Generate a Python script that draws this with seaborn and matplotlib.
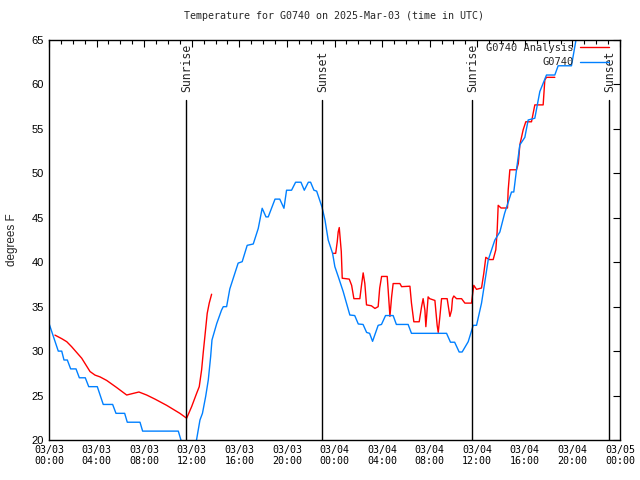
import numpy as np
import pandas as pd
import matplotlib
matplotlib.use('Agg')
import matplotlib.pyplot as plt
from matplotlib.lines import Line2D
import seaborn as sns

# hours since 2025-03-03 00:00 UTC
obs_hours = [0.03, 0.78, 1.07, 1.26, 1.54, 1.82, 2.27, 2.55, 3.05, 3.34, 4.06, 4.56, 5.35, 5.63,
             6.36, 6.58, 7.65, 7.87, 10.87, 11.2, 11.6, 12.1, 12.4, 12.69, 12.9, 13.17, 13.39,
             13.59, 13.7, 14.1, 14.5, 14.65, 14.93, 15.2, 15.9, 16.24, 16.66, 17.17, 17.59,
             17.92, 18.24, 18.43, 19.0, 19.4, 19.75, 19.97, 20.39, 20.73, 21.18, 21.46, 21.8,
             21.99, 22.27, 22.5, 22.95, 23.2, 23.47, 23.84, 24.03, 24.31, 24.73, 25.29, 25.7,
             26.0, 26.4, 26.7, 26.95, 27.2, 27.67, 27.95, 28.29, 28.93, 29.2, 30.19, 30.47,
             33.42, 33.75, 34.1, 34.48, 34.73, 35.24, 35.66, 35.94, 36.36, 36.92, 37.48, 37.9,
             38.3, 38.88, 39.07, 39.3, 39.58, 40.0, 40.28, 40.84, 41.26, 41.82, 42.52, 42.8,
             43.92, 44.3, 44.6]
obs_temps = [33, 30, 30, 29, 29, 28, 28, 27, 27, 26, 26, 24, 24, 23,
             23, 22, 22, 21, 21, 19.5, 18, 18, 20, 22.25, 23, 24.9, 26.75,
             29.4, 31.25, 33.1, 34.6, 35, 35, 37, 39.9, 40.06, 41.9, 42.05, 43.8,
             46.07, 45.1, 45.1, 47.1, 47.1, 46.07, 48.1, 48.1, 49.0, 49, 48.1, 49,
             49, 48.1, 48, 46.2, 44.75, 42.5, 41.0, 39.5, 38.4, 36.7, 34.06, 34,
             33.05, 33, 32.1, 32, 31.1, 32.9, 33, 34, 34, 33, 33, 32,
             32, 31, 31, 29.9, 29.9, 31.06, 32.9, 32.9, 35.4, 40.25, 42.5, 43.4,
             45.5, 47.9, 47.9, 50.4, 53.2, 54.05, 56, 56.2, 59.2, 61.06, 61.06, 62.1,
             62.1, 65, 66.5]

# analysis series, NaN marks the gap in the data
ana_hours = [0.5, 1.07, 1.49, 1.9, 2.75, 3.45, 3.87, 4.29, 4.85, 5.69, 6.53, 6.95, 7.56, 8.21,
             8.91, 9.89, 11.0, 11.57, 11.99, 12.41, 12.63, 12.83, 12.97, 13.1, 13.3, 13.47, 13.67,
             np.nan,
             23.9, 24.1, 24.23, 24.31, 24.4, 24.57, 24.65, 25.24, 25.44, 25.63, 26.13, 26.27, 26.41,
             26.55, 26.69, 27.1, 27.4, 27.67, 27.8, 27.96, 28.43, 28.51, 28.66, 28.8, 28.93, 29.5,
             29.64, 30.34, 30.47, 30.67, 31.12, 31.32, 31.45, 31.6, 31.68, 31.87, 32.0, 32.44,
             32.63, 32.72, 32.86, 33.0, 33.47, 33.7, 33.84, 33.92, 34.03, 34.26, 34.68, 34.96,
             35.52, 35.6, 35.71, 35.94, 36.36, 36.55, 36.72, 37.0, 37.34, 37.56, 37.67, 37.76,
             38.0, 38.54, 38.6, 38.74, 39.3, 39.45, 39.58, 39.72, 39.86, 40.08, 40.56, 40.7,
             40.84, 41.54, 41.68, 41.82, 42.52]
ana_temps = [31.8, 31.4, 31.06, 30.5, 29.2, 27.7, 27.3, 27.1, 26.7, 25.9, 25.06, 25.2, 25.4, 25.06,
             24.6, 23.9, 23.0, 22.45, 23.75, 25.25, 26, 27.9, 29.9, 31.6, 34.25, 35.4, 36.4,
             np.nan,
             41, 41, 42.3, 43.4, 43.9, 41.2, 38.2, 38.1, 37.4, 35.9, 35.9, 37.4, 38.8,
             37.6, 35.2, 35.1, 34.8, 35, 37.1, 38.4, 38.4, 36.9, 33.9, 36.1, 37.6, 37.6,
             37.25, 37.3, 35.4, 33.3, 33.3, 35, 35.9, 34.6, 32.75, 36.1, 35.9, 35.7,
             32.9, 32.1, 33.9, 35.9, 35.9, 33.9, 34.6, 35.9, 36.2, 35.9, 35.9, 35.4,
             35.4, 36.3, 37.4, 36.95, 37.1, 38.75, 40.55, 40.3, 40.3, 41.4, 43.4, 46.4,
             46.1, 46.1, 48.1, 50.4, 50.4, 51.1, 53.2, 54.05, 54.9, 55.8, 55.8, 56.75,
             57.7, 57.7, 60.5, 60.8, 60.8]

event_hours = [11.5, 22.95, 35.6, 47.1]
event_names = ['Sunrise', 'Sunset', 'Sunrise', 'Sunset']

xtick_hours = [0, 4, 8, 12, 16, 20, 24, 28, 32, 36, 40, 44, 48]
xtick_labels = ['03/03\n00:00', '03/03\n04:00', '03/03\n08:00', '03/03\n12:00', '03/03\n16:00',
                '03/03\n20:00', '03/04\n00:00', '03/04\n04:00', '03/04\n08:00', '03/04\n12:00',
                '03/04\n16:00', '03/04\n20:00', '03/05\n00:00']

red = '#ff0000'
blue = '#0080ff'

obs = pd.DataFrame({'hour': obs_hours, 'temp': obs_temps})
ana = pd.DataFrame({'hour': ana_hours, 'temp': ana_temps})
ana['seg'] = ana['hour'].isna().cumsum()
ana = ana.dropna()

sns.set_style('white')
plt.rcParams['font.family'] = ['DejaVu Sans Mono']

fig, ax = plt.subplots(figsize=(6.4, 4.8), dpi=100)
fig.subplots_adjust(left=49/640, right=620/640, top=1-40/480, bottom=1-440/480)

sns.lineplot(data=ana, x='hour', y='temp', units='seg', estimator=None, color=red,
             lw=1.0, ax=ax, legend=False)
sns.lineplot(data=obs, x='hour', y='temp', color=blue, lw=1.0, ax=ax, legend=False)

for h, name in zip(event_hours, event_names):
    ax.axvline(h, ymin=0, ymax=0.85, color='black', lw=1.0)
    ax.text(h + 0.05, 0.87, name, transform=ax.get_xaxis_transform(), rotation=90,
            ha='center', va='bottom', fontsize=8.3)

ax.set_xlim(0, 48)
ax.set_ylim(20, 65)
ax.set_xticks(xtick_hours)
ax.set_xticklabels(xtick_labels, fontsize=7.2)
ax.set_xticks(np.arange(0, 49, 1), minor=True)
ax.set_yticks(np.arange(20, 66, 5))
for lab in ax.get_yticklabels():
    lab.set_family('Liberation Sans')
    lab.set_fontsize(8)
ax.tick_params(which='both', direction='in', top=True, right=True, width=0.8, colors='black')
ax.tick_params(which='major', length=5)
ax.tick_params(which='minor', length=3)
for s in ax.spines.values():
    s.set_color('black')
    s.set_linewidth(1.0)

ax.set_xlabel('')
ax.set_ylabel('degrees F', family='Liberation Sans', fontsize=8.5, labelpad=10)
ax.set_title('Temperature for G0740 on 2025-Mar-03 (time in UTC)', fontsize=7.2, pad=15)

handles = [Line2D([], [], color=red, lw=1.0), Line2D([], [], color=blue, lw=1.0)]
ax.legend(handles, ['G0740 Analysis', 'G0740'], loc='upper right',
          bbox_to_anchor=(0.985, 1.0), frameon=False, markerfirst=False, fontsize=7.5,
          handlelength=2.8, handletextpad=0.6, borderaxespad=0.0, borderpad=0.25,
          labelspacing=0.45)

fig.savefig('out.png', dpi=100)
